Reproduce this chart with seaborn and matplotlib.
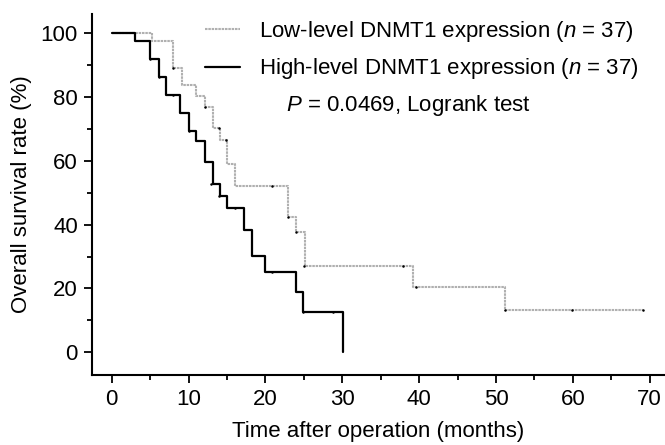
import numpy as np
import pandas as pd
import seaborn as sns
import matplotlib.pyplot as plt

# ---- data (Kaplan-Meier steps) ----
low_time = [0, 5.2, 8.0, 9.1, 11.0, 12.1, 13.2, 14.1, 15.0, 16.1, 23.0, 24.0, 25.1, 39.2, 51.2, 69.1]
low_surv = [100, 97.3, 89.0, 83.6, 80.2, 76.9, 70.1, 66.3, 59.0, 52.0, 42.4, 37.6, 26.9, 20.4, 13.4, 13.4]

high_time = [0, 3.0, 5.0, 6.1, 7.0, 8.9, 10.0, 11.0, 12.1, 13.2, 14.1, 15.0, 17.2, 18.2, 20.0, 24.0, 24.9, 30.1]
high_surv = [100, 97.3, 91.9, 86.2, 80.4, 75.0, 69.1, 66.0, 59.5, 52.8, 49.0, 45.3, 38.3, 30.3, 25.0, 18.9, 12.6, 0]

# censored marks
low_cens_t = [8.0, 12.1, 13.9, 14.9, 20.8, 23.0, 24.0, 25.0, 37.9, 39.6, 51.2, 59.9, 69.1]
low_cens_s = [89.0, 76.9, 70.1, 66.3, 52.0, 42.4, 37.6, 26.9, 26.9, 20.4, 13.4, 13.4, 13.4]
high_cens_t = [5.0, 6.1, 8.0, 10.0, 12.9, 13.9, 16.0, 20.8, 24.9, 28.8]
high_cens_s = [91.9, 86.2, 80.4, 69.1, 52.8, 49.0, 45.3, 25.0, 12.6, 12.6]

low_label = "Low-level DNMT1 expression ($n$ = 37)"
high_label = "High-level DNMT1 expression ($n$ = 37)"
p_text = "$P$ = 0.0469, Logrank test"

# ---- style ----
sns.set_style("ticks")
plt.rcParams["font.family"] = ["Liberation Sans", "DejaVu Sans"]
plt.rcParams["mathtext.fontset"] = "custom"
plt.rcParams["mathtext.rm"] = "Liberation Sans"
plt.rcParams["mathtext.it"] = "Liberation Sans:italic"
plt.rcParams["text.color"] = "black"
plt.rcParams["axes.labelcolor"] = "black"
plt.rcParams["xtick.color"] = "black"
plt.rcParams["ytick.color"] = "black"

fig = plt.figure(figsize=(6.65, 4.45), dpi=100)
ax = fig.add_axes([0.138, 0.157, 0.862, 0.812])

low_df = pd.DataFrame({"t": low_time, "s": low_surv})
high_df = pd.DataFrame({"t": high_time, "s": high_surv})

sns.lineplot(data=low_df, x="t", y="s", ax=ax, color="#b0b0b0", linewidth=1.5,
             drawstyle="steps-post", linestyle=(0, (1.2, 0.4)), label=low_label, sort=False)
sns.lineplot(data=high_df, x="t", y="s", ax=ax, color="black", linewidth=1.6,
             drawstyle="steps-post", label=high_label, sort=False)

ax.plot(low_cens_t, low_cens_s, "o", color="black", ms=1.8, mew=0)
ax.plot(high_cens_t, high_cens_s, "o", color="black", ms=1.8, mew=0)

ax.set_xlim(-2.6, 72)
ax.set_ylim(-7.1, 105.9)
ax.set_xticks(np.arange(0, 71, 10))
ax.set_xticks(np.arange(5, 71, 10), minor=True)
ax.set_yticks(np.arange(0, 101, 20))
ax.set_yticks(np.arange(10, 101, 20), minor=True)
ax.tick_params(which="major", direction="out", length=6, width=1.3, labelsize=16, pad=4)
ax.tick_params(which="minor", direction="out", length=3.5, width=1.3)

for s in ["top", "right"]:
    ax.spines[s].set_visible(False)
for s in ["left", "bottom"]:
    ax.spines[s].set_linewidth(1.5)
    ax.spines[s].set_color("black")

ax.set_xlabel("Time after operation (months)", fontsize=16, labelpad=8)
ax.set_ylabel("Overall survival rate (%)", fontsize=16, labelpad=6)

ax.legend(loc="upper left", bbox_to_anchor=(0.197, 0.985), frameon=False, fontsize=16,
          handlelength=1.6, handletextpad=0.85, labelspacing=0.55, borderaxespad=0, borderpad=0)
ax.text(0.553, 0.745, p_text, transform=ax.transAxes, ha="center", va="center", fontsize=16)

fig.savefig("out.png", dpi=100)
